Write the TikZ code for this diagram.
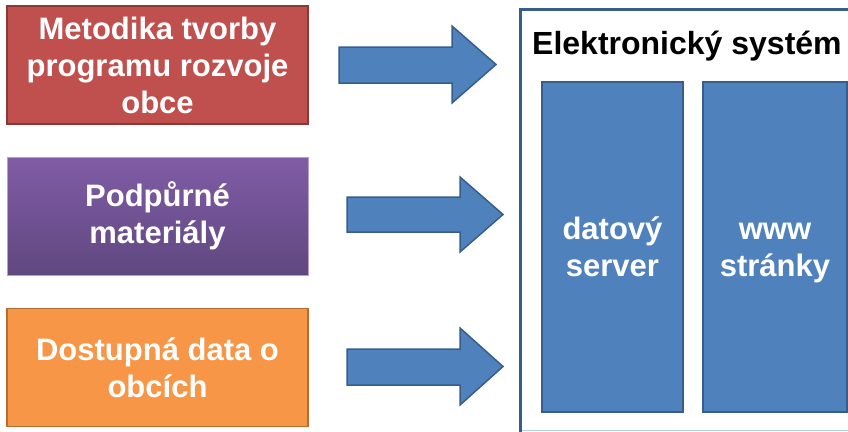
\documentclass[tikz,border=0pt]{standalone}
\usepackage{fontspec}
\setmainfont{Liberation Sans}
\definecolor{redf}{RGB}{192,80,77}
\definecolor{redd}{RGB}{140,56,54}
\definecolor{purt}{RGB}{128,92,166}
\definecolor{purb}{RGB}{96,72,128}
\definecolor{purd}{RGB}{180,160,205}
\definecolor{orf}{RGB}{247,150,70}
\definecolor{ord}{RGB}{182,109,49}
\definecolor{bluef}{RGB}{79,129,189}
\definecolor{blued}{RGB}{56,93,138}
\definecolor{lightline}{RGB}{185,205,229}
\begin{document}
\begin{tikzpicture}[x=1pt,y=-1pt,
  boxtext/.style={text=white,font=\fontsize{31}{37}\selectfont\bfseries,align=center},
  srcbox/.style={rectangle,minimum width=301pt,minimum height=118pt,line width=1.5pt,inner sep=0pt},
  blkarrow/.style={fill=bluef,draw=blued,line width=1.5pt,line join=miter},
  innerbox/.style={rectangle,fill=bluef,draw=blued,line width=1.5pt,inner sep=0pt,minimum height=330pt}]
\useasboundingbox (0,0) rectangle (848,431);
% source boxes
\node[srcbox,fill=redf,draw=redd] (b1) at (157.5,65) {};
\node[boxtext] (t1) at (b1.center) {Metodika tvorby\\programu rozvoje\\obce};
\node[srcbox,top color=purt,bottom color=purb,draw=purd,line width=0.8pt] (b2) at (157.5,216) {};
\node[boxtext] (t2) at (b2.center) {Podpůrné\\materiály};
\node[srcbox,fill=orf,draw=ord] (b3) at (157.5,367.5) {};
\node[boxtext] (t3) at (b3.center) {Dostupná data o\\obcích};
% block arrows
\draw[blkarrow] (339,47) -- (452,47) -- (452,26) -- (496,64.5) -- (452,103) -- (452,83) -- (339,83) -- cycle;
\draw[blkarrow] (347,197) -- (460,197) -- (460,177) -- (503,214.5) -- (460,252) -- (460,232) -- (347,232) -- cycle;
\draw[blkarrow] (347,349) -- (460,349) -- (460,328) -- (503,366.5) -- (460,405) -- (460,385) -- (347,385) -- cycle;
% frame
\draw[blued,line width=3pt] (849,9) -- (520,9) -- (520,432);
\draw[lightline,line width=1pt] (521.5,430) -- (848,430);
\node[font=\fontsize{32}{38}\selectfont\bfseries,anchor=base west,inner sep=0pt] (title) at (532,54) {Elektronický systém};
% inner boxes
\node[innerbox,minimum width=141pt] (s1) at (612.5,247) {};
\node[boxtext] (st1) at ([yshift=-4pt]s1.center) {\strut datový\\server\strut};
\node[innerbox,minimum width=144pt] (s2) at (775,247) {};
\node[boxtext] (st2) at ([yshift=-4pt]s2.center) {\strut www\\stránky\strut};
\end{tikzpicture}
\end{document}
